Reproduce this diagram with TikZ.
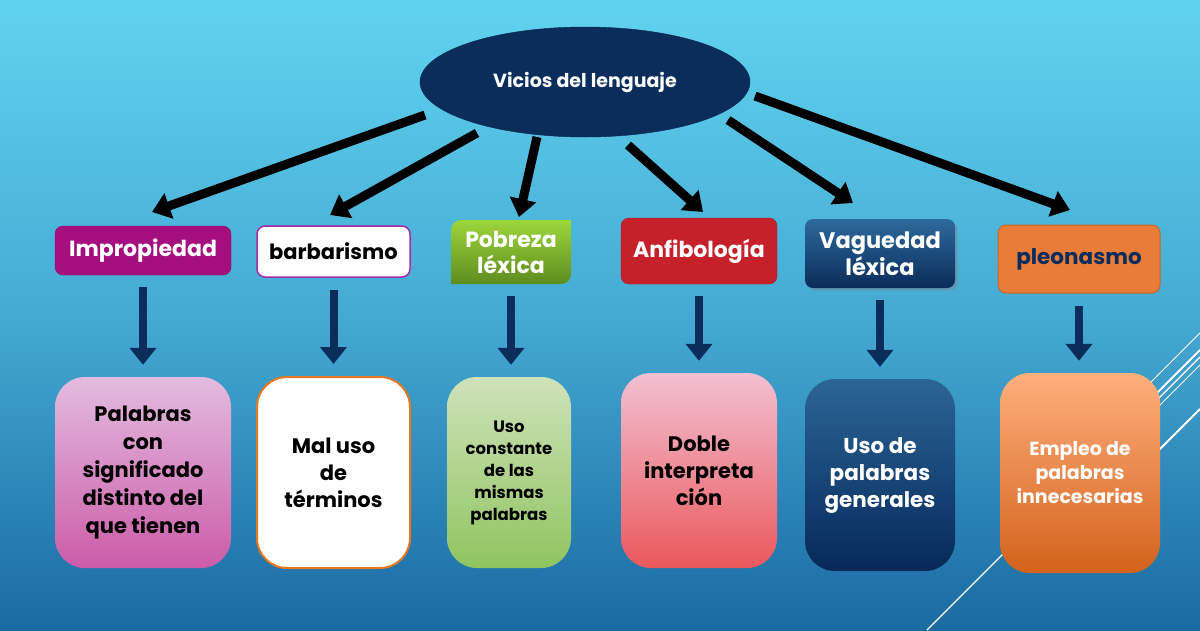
\documentclass[tikz,border=0pt]{standalone}
\usepackage{fontspec}
\setmainfont{Poppins}
\usetikzlibrary{arrows.meta,shapes.geometric,shadows}
\definecolor{navy}{HTML}{0A2D5C}
\definecolor{bgtop}{HTML}{60D3F0}
\definecolor{bgmid}{HTML}{45AAD3}
\definecolor{bgbot}{HTML}{1A6AA2}
\definecolor{cA}{HTML}{A50E7E}\definecolor{cAd}{HTML}{8A0A68}
\definecolor{cB}{HTML}{A52AA8}
\definecolor{cCt}{HTML}{9DD63B}\definecolor{cCb}{HTML}{5E8C1E}
\definecolor{cD}{HTML}{C6202B}\definecolor{cDd}{HTML}{A01A25}
\definecolor{cEt}{HTML}{2D6A9C}\definecolor{cEb}{HTML}{0A2C5A}
\definecolor{cF}{HTML}{E97C38}\definecolor{cFd}{HTML}{C8652A}
\definecolor{cFt}{HTML}{0B2D5E}
\definecolor{p1t}{HTML}{E3BBE0}\definecolor{p1b}{HTML}{CC5CA8}
\definecolor{p2d}{HTML}{E87722}
\definecolor{p3t}{HTML}{CFE2BA}\definecolor{p3b}{HTML}{90C460}
\definecolor{p4t}{HTML}{F2C0D2}\definecolor{p4b}{HTML}{EB585C}
\definecolor{p5t}{HTML}{2B6596}\definecolor{p5b}{HTML}{06295A}
\definecolor{p6t}{HTML}{FFAF7D}\definecolor{p6b}{HTML}{D3621C}
\tikzset{
  topbox/.style={rectangle, rounded corners=8pt, align=center, font=\bfseries\fontsize{22}{26}\selectfont, inner sep=2pt},
  botbox/.style={rectangle, rounded corners=30pt, align=center, font=\bfseries\fontsize{21}{28}\selectfont, inner sep=2pt},
  bigarrow/.style={draw=black, line width=9pt, -{Triangle[width=26pt,length=18pt]}},
  varrow/.style={draw=navy, line width=8pt, -{Triangle[width=26pt,length=17pt]}, shorten <=12pt, shorten >=12pt},
  deco/.style={draw=white, line width=1.2pt}
}
\begin{document}
\begin{tikzpicture}[x=1pt,y=-1pt]
\useasboundingbox (0,0) rectangle (1200,630);
\shade[top color=bgtop, bottom color=bgbot, middle color=bgmid] (0,0) rectangle (1200,630);
% decorative lines
\draw[deco] (927,630) -- (1200,357);
\draw[deco, line width=0.8pt] (1100,433) -- (1200,333);
\draw[deco, line width=2pt] (1110,440) -- (1200,350);
\draw[deco, line width=0.8pt] (1120,445) -- (1200,365);
\draw[deco, line width=2pt] (1140,469) -- (1200,409);

% central ellipse
\node[ellipse, fill=navy, draw=navy!80!black, minimum width=330pt, minimum height=110pt, text=white, font=\bfseries\fontsize{19}{22}\selectfont] (main) at (585,82) {Vicios del lenguaje};

% top boxes
\node[topbox, fill=cA, draw=cAd, text=white, minimum width=176pt, minimum height=49pt] (t1) at (143,250.5) {Impropiedad};
\node[topbox, fill=white, draw=cB, line width=1.5pt, text=black, minimum width=153pt, minimum height=51pt, font=\bfseries\fontsize{21}{26}\selectfont] (t2) at (333.5,251.5) {barbarismo};
\shade[top color=cCt, bottom color=cCb, rounded corners=0pt] (451,284) -- (451,230) arc[start angle=180, end angle=90, radius=10pt] -- (571,220) -- (571,274) arc[start angle=0, end angle=-90, radius=10pt] -- cycle;
\node[topbox, rounded corners=0pt, text=white, minimum width=120pt, minimum height=64pt] (t3) at (511,252) {Pobreza\\léxica};
\node[topbox, fill=cD, draw=cDd, text=white, minimum width=156pt, minimum height=66pt] (t4) at (699,251) {Anfibología};
\node[topbox, top color=cEt, bottom color=cEb, drop shadow={opacity=0.4}, text=white, minimum width=150pt, minimum height=69pt, font=\bfseries\fontsize{22.5}{27}\selectfont] (t5) at (880,253.5) {Vaguedad\\léxica};
\node[topbox, fill=cF, draw=cFd, line width=1pt, text=cFt, minimum width=162pt, minimum height=68pt, font=\bfseries\fontsize{21.5}{26}\selectfont] (t6) at (1079,259) {pleonasmo};

% bottom boxes
\node[botbox, top color=p1t, bottom color=p1b, text=black, minimum width=176pt, minimum height=191pt] (b1) at (143,472.5) {Palabras\\con\\significado\\distinto del\\que tienen};
\node[botbox, fill=white, draw=p2d, line width=2pt, text=black, minimum width=153pt, minimum height=191pt, font=\bfseries\fontsize{21}{27}\selectfont] (b2) at (333.5,472.5) {Mal uso\\de\\términos};
\node[botbox, top color=p3t, bottom color=p3b, text=black, minimum width=124pt, minimum height=191pt, font=\bfseries\fontsize{16.5}{22}\selectfont] (b3) at (509,472.5) {Uso\\constante\\de las\\mismas\\palabras};
\node[botbox, top color=p4t, bottom color=p4b, text=black, minimum width=156pt, minimum height=195pt, font=\bfseries\fontsize{21}{27}\selectfont] (b4) at (699,470.5) {Doble\\interpreta\\ción};
\node[botbox, top color=p5t, bottom color=p5b, text=white, minimum width=150pt, minimum height=192pt, font=\bfseries\fontsize{21.5}{27}\selectfont] (b5) at (880,475) {Uso de\\palabras\\generales};
\node[botbox, top color=p6t, bottom color=p6b, text=white, minimum width=160pt, minimum height=200pt, font=\bfseries\fontsize{19}{24}\selectfont] (b6) at (1080,473) {Empleo de\\palabras\\innecesarias};

% connector endpoints from the ellipse
\coordinate (s1) at (425,115); \coordinate (e1) at (152,212);
\coordinate (s2) at (477,133); \coordinate (e2) at (330,215);
\coordinate (s3) at (537,137); \coordinate (e3) at (519,217);
\coordinate (s4) at (628,145); \coordinate (e4) at (703,212);
\coordinate (s5) at (728,120); \coordinate (e5) at (853,203);
\coordinate (s6) at (755,96);  \coordinate (e6) at (1070,210);
\foreach \i in {1,...,6} { \draw[bigarrow] (s\i) -- (e\i); }

% vertical arrows
\foreach \i in {1,...,6} { \draw[varrow] (t\i.south) -- (t\i.south |- b\i.north); }
\end{tikzpicture}
\end{document}
